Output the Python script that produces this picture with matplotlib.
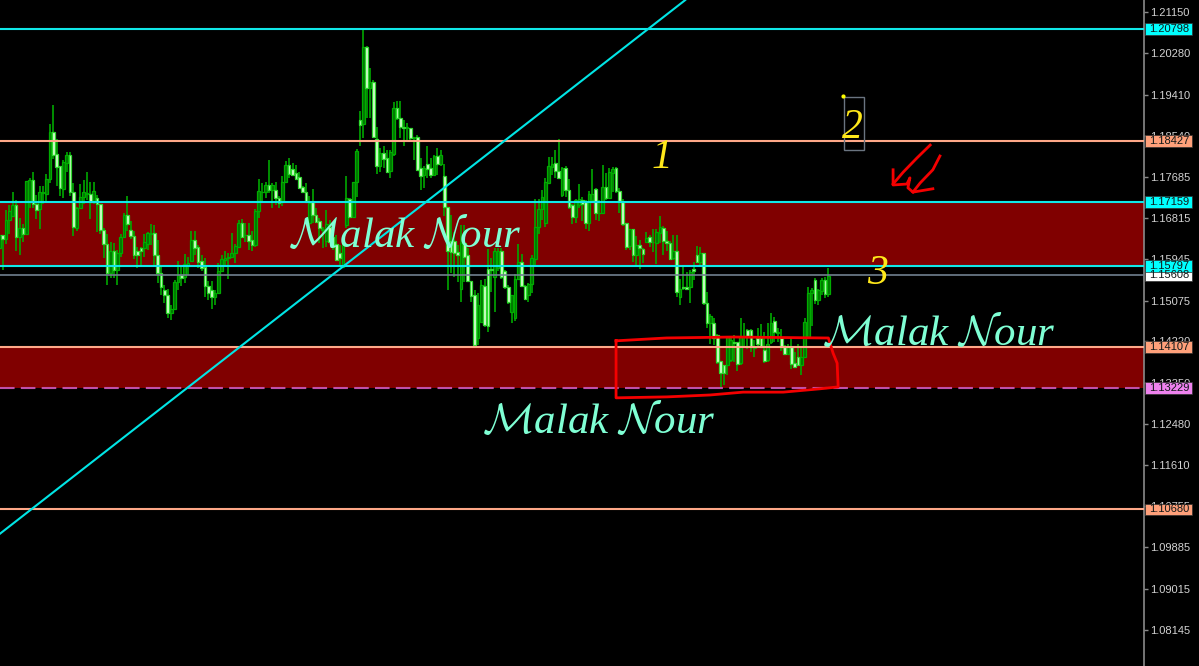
#!/usr/bin/env python
# coding: utf-8

import matplotlib
matplotlib.use("Agg")
import matplotlib.pyplot as plt
from matplotlib.patches import Rectangle

plt.rcParams['mathtext.fontset'] = 'cm'
plt.rcParams['mathtext.default'] = 'regular'

# candles
opens = [
    1.1618,1.1646,1.1637,1.1677,1.1686,1.1708,1.1641,1.1661,1.1648,1.1716,
    1.1762,1.1711,1.1700,1.1734,1.1732,1.1764,1.1863,1.1816,1.1790,1.1743,
    1.1798,1.1814,1.1737,1.1660,1.1702,1.1725,1.1732,1.1732,1.1716,1.1723,
    1.1710,1.1656,1.1627,1.1565,1.1612,1.1572,1.1607,1.1642,1.1687,1.1656,
    1.1644,1.1611,1.1618,1.1618,1.1627,1.1648,1.1649,1.1604,1.1566,1.1531,
    1.1519,1.1482,1.1491,1.1546,1.1562,1.1557,1.1581,1.1590,1.1635,1.1621,
    1.1590,1.1579,1.1539,1.1529,1.1515,1.1524,1.1569,1.1593,1.1597,1.1599,
    1.1607,1.1621,1.1670,1.1645,1.1646,1.1635,1.1625,1.1696,1.1736,1.1737,
    1.1751,1.1741,1.1741,1.1723,1.1716,1.1758,1.1793,1.1784,1.1776,1.1767,
    1.1746,1.1736,1.1670,1.1716,1.1688,1.1675,1.1656,1.1634,1.1662,1.1642,
    1.1627,1.1607,1.1579,1.1667,1.1722,1.1684,1.1757,1.1887,1.1879,1.2042,
    1.1956,1.1967,1.1848,1.1790,1.1818,1.1807,1.1781,1.1816,1.1912,1.1891,
    1.1874,1.1870,1.1870,1.1849,1.1851,1.1786,1.1771,1.1795,1.1786,1.1773,
    1.1811,1.1795,1.1770,1.1705,1.1633,1.1633,1.1609,1.1533,1.1628,1.1604,
    1.1549,1.1519,1.1428,1.1463,1.1539,1.1575,1.1575,1.1558,1.1576,1.1612,
    1.1570,1.1537,1.1484,1.1470,1.1553,1.1589,1.1539,1.1519,1.1542,1.1596,
    1.1663,1.1700,1.1672,1.1756,1.1789,1.1798,1.1780,1.1730,1.1787,1.1740,
    1.1709,1.1684,1.1709,1.1719,1.1716,1.1672,1.1719,1.1742,1.1691,1.1691,
    1.1747,1.1723,1.1777,1.1786,1.1738,1.1716,1.1670,1.1622,1.1658,1.1603,
    1.1624,1.1617,1.1631,1.1642,1.1630,1.1628,1.1649,1.1661,1.1633,1.1629,
    1.1598,1.1612,1.1516,1.1537,1.1537,1.1537,1.1575,1.1603,1.1589,1.1607,
    1.1503,1.1460,1.1460,1.1435,1.1381,1.1372,1.1372,1.1382,1.1421,1.1421,
    1.1377,1.1431,1.1445,1.1445,1.1407,1.1428,1.1428,1.1403,1.1382,1.1421,
    1.1464,1.1440,1.1428,1.1410,1.1396,1.1410,1.1377,1.1389,1.1372,1.1389,
    1.1431,1.1523,1.1551,1.1509,1.1528,1.1552,1.1521]
highs = [
    1.1646,1.1646,1.1698,1.1709,1.1737,1.1720,1.1682,1.1669,1.1760,1.1765,
    1.1779,1.1730,1.1748,1.1748,1.1774,1.1880,1.1919,1.1848,1.1790,1.1804,
    1.1820,1.1820,1.1755,1.1704,1.1753,1.1762,1.1779,1.1758,1.1758,1.1730,
    1.1712,1.1660,1.1648,1.1632,1.1628,1.1614,1.1648,1.1691,1.1728,1.1675,
    1.1655,1.1621,1.1621,1.1648,1.1653,1.1668,1.1667,1.1635,1.1579,1.1541,
    1.1533,1.1498,1.1551,1.1590,1.1581,1.1605,1.1599,1.1655,1.1655,1.1625,
    1.1604,1.1597,1.1548,1.1548,1.1530,1.1586,1.1604,1.1613,1.1607,1.1649,
    1.1626,1.1678,1.1680,1.1670,1.1670,1.1655,1.1700,1.1763,1.1755,1.1758,
    1.1804,1.1755,1.1758,1.1727,1.1769,1.1802,1.1807,1.1797,1.1793,1.1779,
    1.1749,1.1755,1.1727,1.1742,1.1702,1.1681,1.1663,1.1699,1.1678,1.1670,
    1.1646,1.1625,1.1646,1.1769,1.1723,1.1758,1.1827,1.1907,1.2080,1.2044,
    1.1997,1.1972,1.1874,1.1828,1.1834,1.1825,1.1825,1.1925,1.1927,1.1927,
    1.1888,1.1881,1.1870,1.1853,1.1856,1.1807,1.1790,1.1834,1.1807,1.1814,
    1.1828,1.1825,1.1795,1.1705,1.1688,1.1653,1.1625,1.1667,1.1667,1.1618,
    1.1549,1.1530,1.1523,1.1551,1.1554,1.1616,1.1597,1.1618,1.1618,1.1618,
    1.1572,1.1540,1.1520,1.1563,1.1626,1.1605,1.1540,1.1544,1.1603,1.1721,
    1.1721,1.1740,1.1765,1.1810,1.1810,1.1824,1.1848,1.1789,1.1791,1.1763,
    1.1712,1.1721,1.1753,1.1726,1.1719,1.1738,1.1784,1.1744,1.1719,1.1794,
    1.1777,1.1786,1.1788,1.1788,1.1744,1.1721,1.1672,1.1659,1.1659,1.1644,
    1.1635,1.1619,1.1652,1.1645,1.1659,1.1659,1.1685,1.1665,1.1654,1.1633,
    1.1645,1.1645,1.1554,1.1579,1.1568,1.1572,1.1589,1.1622,1.1621,1.1607,
    1.1526,1.1479,1.1470,1.1438,1.1381,1.1372,1.1431,1.1428,1.1435,1.1421,
    1.1470,1.1461,1.1447,1.1447,1.1424,1.1449,1.1459,1.1442,1.1461,1.1481,
    1.1474,1.1451,1.1447,1.1414,1.1417,1.1431,1.1400,1.1417,1.1410,1.1470,
    1.1537,1.1535,1.1556,1.1533,1.1556,1.1558,1.1577]
lows = [
    1.1618,1.1572,1.1627,1.1648,1.1684,1.1611,1.1604,1.1630,1.1646,1.1702,
    1.1702,1.1680,1.1658,1.1712,1.1716,1.1756,1.1805,1.1748,1.1727,1.1723,
    1.1778,1.1727,1.1644,1.1655,1.1701,1.1712,1.1720,1.1680,1.1712,1.1651,
    1.1647,1.1598,1.1541,1.1555,1.1556,1.1541,1.1599,1.1640,1.1655,1.1637,
    1.1595,1.1577,1.1583,1.1599,1.1614,1.1625,1.1579,1.1544,1.1519,1.1503,
    1.1470,1.1467,1.1491,1.1530,1.1539,1.1544,1.1562,1.1588,1.1604,1.1576,
    1.1569,1.1516,1.1509,1.1489,1.1498,1.1522,1.1567,1.1579,1.1553,1.1597,
    1.1586,1.1620,1.1639,1.1632,1.1614,1.1613,1.1621,1.1681,1.1713,1.1723,
    1.1734,1.1702,1.1709,1.1702,1.1706,1.1758,1.1765,1.1769,1.1762,1.1742,
    1.1734,1.1713,1.1660,1.1670,1.1670,1.1628,1.1618,1.1621,1.1632,1.1614,
    1.1590,1.1579,1.1579,1.1660,1.1681,1.1684,1.1726,1.1834,1.1849,1.1891,
    1.1891,1.1853,1.1774,1.1779,1.1786,1.1776,1.1765,1.1811,1.1888,1.1849,
    1.1832,1.1846,1.1846,1.1804,1.1781,1.1740,1.1744,1.1765,1.1765,1.1772,
    1.1772,1.1790,1.1686,1.1530,1.1565,1.1558,1.1547,1.1505,1.1547,1.1547,
    1.1505,1.1414,1.1414,1.1463,1.1453,1.1442,1.1526,1.1483,1.1569,1.1554,
    1.1533,1.1500,1.1460,1.1465,1.1551,1.1537,1.1509,1.1504,1.1523,1.1579,
    1.1647,1.1677,1.1663,1.1756,1.1772,1.1765,1.1765,1.1725,1.1726,1.1700,
    1.1668,1.1670,1.1703,1.1675,1.1659,1.1654,1.1716,1.1677,1.1675,1.1690,
    1.1719,1.1721,1.1737,1.1735,1.1691,1.1665,1.1614,1.1614,1.1589,1.1579,
    1.1574,1.1586,1.1628,1.1621,1.1610,1.1584,1.1628,1.1603,1.1612,1.1593,
    1.1593,1.1516,1.1498,1.1530,1.1530,1.1502,1.1551,1.1586,1.1579,1.1498,
    1.1449,1.1417,1.1414,1.1374,1.1323,1.1330,1.1351,1.1379,1.1379,1.1360,
    1.1372,1.1407,1.1405,1.1400,1.1388,1.1407,1.1410,1.1377,1.1379,1.1417,
    1.1421,1.1421,1.1402,1.1393,1.1393,1.1363,1.1365,1.1370,1.1351,1.1388,
    1.1431,1.1454,1.1500,1.1498,1.1519,1.1514,1.1516]
closes = [
    1.1646,1.1637,1.1677,1.1697,1.1709,1.1641,1.1660,1.1648,1.1760,1.1762,
    1.1712,1.1698,1.1736,1.1736,1.1764,1.1863,1.1814,1.1788,1.1745,1.1799,
    1.1814,1.1737,1.1662,1.1703,1.1725,1.1736,1.1734,1.1716,1.1739,1.1710,
    1.1656,1.1627,1.1565,1.1612,1.1572,1.1607,1.1642,1.1687,1.1669,1.1644,
    1.1604,1.1604,1.1611,1.1630,1.1649,1.1649,1.1604,1.1566,1.1536,1.1519,
    1.1482,1.1491,1.1546,1.1562,1.1556,1.1585,1.1586,1.1635,1.1619,1.1588,
    1.1577,1.1539,1.1524,1.1516,1.1523,1.1570,1.1595,1.1597,1.1600,1.1607,
    1.1623,1.1670,1.1642,1.1646,1.1633,1.1625,1.1696,1.1739,1.1737,1.1750,
    1.1741,1.1750,1.1723,1.1713,1.1758,1.1793,1.1774,1.1772,1.1763,1.1744,
    1.1737,1.1715,1.1713,1.1688,1.1674,1.1660,1.1658,1.1668,1.1632,1.1621,
    1.1593,1.1597,1.1625,1.1723,1.1684,1.1757,1.1823,1.1877,1.2042,1.1956,
    1.1967,1.1853,1.1791,1.1818,1.1806,1.1779,1.1821,1.1912,1.1891,1.1874,
    1.1870,1.1874,1.1849,1.1851,1.1783,1.1769,1.1786,1.1785,1.1772,1.1811,
    1.1795,1.1814,1.1705,1.1611,1.1609,1.1607,1.1604,1.1628,1.1600,1.1549,
    1.1518,1.1414,1.1498,1.1540,1.1456,1.1454,1.1571,1.1611,1.1611,1.1558,
    1.1537,1.1505,1.1520,1.1554,1.1589,1.1539,1.1512,1.1542,1.1598,1.1663,
    1.1700,1.1726,1.1758,1.1791,1.1796,1.1780,1.1765,1.1787,1.1740,1.1705,
    1.1684,1.1719,1.1721,1.1712,1.1672,1.1733,1.1733,1.1691,1.1692,1.1747,
    1.1724,1.1779,1.1784,1.1738,1.1718,1.1668,1.1621,1.1658,1.1603,1.1624,
    1.1619,1.1605,1.1640,1.1630,1.1631,1.1651,1.1663,1.1633,1.1628,1.1595,
    1.1612,1.1525,1.1533,1.1535,1.1533,1.1568,1.1570,1.1588,1.1607,1.1502,
    1.1461,1.1475,1.1428,1.1379,1.1356,1.1356,1.1431,1.1424,1.1419,1.1375,
    1.1431,1.1433,1.1431,1.1410,1.1410,1.1417,1.1410,1.1381,1.1417,1.1461,
    1.1442,1.1442,1.1410,1.1396,1.1409,1.1375,1.1367,1.1372,1.1389,1.1462,
    1.1523,1.1530,1.1509,1.1530,1.1552,1.1521,1.1559]

# price axis
tick_prices = [1.21150, 1.20280, 1.19410, 1.18540, 1.17685, 1.16815, 1.15945, 1.15075,
               1.14220, 1.13350, 1.12480, 1.11610, 1.10755, 1.09885, 1.09015, 1.08145]

# horizontal levels and their price tags
level_prices = [1.20798, 1.18427, 1.17159, 1.15797, 1.15608, 1.14107, 1.13229, 1.10680]
level_colors = ['#10e8e8', '#ffa888', '#10e8e8', '#10e8e8', '#708090', '#ffa888', '#c050a8', '#ffa888']
tag_colors = ['#00ffff', '#ffa07a', '#00ffff', '#00ffff', '#ffffff', '#ffa07a', '#ee82ee', '#ffa07a']
tag_order = [4, 0, 1, 2, 3, 5, 6, 7]  # white tag sits under the cyan one

# shaded zones
zone_tops = [1.17159, 1.14107]
zone_bottoms = [1.15797, 1.13229]

# trend line (candle number, price)
trend_x = [0.2, 203.5]
trend_y = [1.1017, 1.2140]

# hand drawn red marks (candle number, price)
box_x = [183, 198, 218, 245, 246, 247.4, 248.6, 248.9, 243.5, 232.6, 220.7, 210.9, 198.1, 183, 183]
box_y = [1.1423, 1.1429, 1.1431, 1.1429, 1.1429, 1.1397, 1.1376, 1.1326, 1.1322, 1.1315, 1.1315, 1.1309, 1.1305, 1.1303, 1.1423]
arrow1_x = [276.2, 272.3, 268.2, 265.2]
arrow1_y = [1.1835, 1.1808, 1.1778, 1.1753]
arrow2_x = [265.2, 265.2, 269.3, 270.2, 269.6, 271.1, 277]
arrow2_y = [1.1783, 1.1751, 1.1753, 1.1766, 1.1745, 1.1736, 1.1743]
arrow3_x = [271.1, 273.2, 277, 279.1]
arrow3_y = [1.1736, 1.1755, 1.1783, 1.1812]

# writing on the chart
name_x = [85.8, 244, 143.2]
name_y = [1.1621, 1.1415, 1.1229]
digit_labels = ['1', '2', '3']
digit_x = [193.5, 250, 257.6]
digit_y = [1.1786, 1.1850, 1.1542]

fig = plt.figure(figsize=(11.99, 6.66), dpi=100, facecolor='black')
ax = fig.add_axes([0, 0, 1143.5 / 1199, 1], facecolor='black')
ax.set_xlim(0.208, 339.5)
ax.set_ylim(1.07386, 1.21403)

# Zones behind everything
for top, bottom in zip(zone_tops, zone_bottoms):
    ax.axhspan(bottom, top, color='#800000', lw=0, zorder=1)

# Candles
numbers = list(range(len(opens)))
ax.vlines(numbers, lows, highs, color='#00a800', lw=1.2, zorder=3)
up = [i for i in numbers if closes[i] >= opens[i]]
down = [i for i in numbers if closes[i] < opens[i]]
ax.bar(up, [closes[i] - opens[i] for i in up], bottom=[opens[i] for i in up], width=0.8,
       color='#007400', edgecolor='#00ac00', lw=0.9, zorder=4)
ax.bar(down, [opens[i] - closes[i] for i in down], bottom=[closes[i] for i in down], width=0.8,
       color='#d8ffd0', edgecolor='#30d830', lw=0.9, zorder=4)

# Levels
for i, price in enumerate(level_prices):
    style = (0, (7, 3)) if price == 1.13229 else '-'
    ax.axhline(price, color=level_colors[i], lw=1.5 if price != 1.15608 else 1.2, ls=style, zorder=5)

ax.plot(trend_x, trend_y, color='#00e5e5', lw=1.5, zorder=5)

# Red pen
for xs, ys in [(box_x, box_y), (arrow1_x, arrow1_y), (arrow2_x, arrow2_y), (arrow3_x, arrow3_y)]:
    ax.plot(xs, ys, color='#f40000', lw=2.0, zorder=6, solid_joinstyle='round')

# Box around the 2
ax.add_patch(Rectangle((250.7, 1.1825), 5.9, 0.0112, fill=False, ec='#6a7480', lw=1.0, zorder=6))
ax.plot([250.4], [1.1939], marker='o', ms=2, color='#ffff00', zorder=7)

for x, y in zip(name_x, name_y):
    ax.text(x, y, r'$\mathcal{M}$alak $\mathcal{N}$our', color='#7fffd4', fontsize=31,
            family='Liberation Serif', style='italic', ha='left', va='baseline', zorder=8)
for label, x, y in zip(digit_labels, digit_x, digit_y):
    ax.text(x, y, label, color='#ffe81a', fontsize=30,
            family='Liberation Serif', style='italic', ha='left', va='baseline', zorder=8)

# Price scale on the right
for side in ['left', 'top', 'bottom']:
    ax.spines[side].set_visible(False)
ax.spines['right'].set_color('#8a8a8a')
ax.spines['right'].set_linewidth(1.2)
ax.set_xticks([])
ax.yaxis.tick_right()
ax.set_yticks(tick_prices)
ax.set_yticklabels([f'{p:.5f}' for p in tick_prices], family='Liberation Sans', fontsize=8, color='#d2d2d2')
ax.tick_params(axis='y', length=3, width=1, color='#8a8a8a', pad=1.5)

tags = ax.get_yaxis_transform()
for i in tag_order:
    ax.add_patch(Rectangle((1.0013, level_prices[i] - 0.00125), 0.0411, 0.0025, transform=tags,
                           fc=tag_colors[i], ec='#303030', lw=0.5, clip_on=False, zorder=10))
    ax.text(1.0046, level_prices[i], f'{level_prices[i]:.5f}', transform=tags, color='#101818',
            family='Liberation Sans', fontsize=8, ha='left', va='center', clip_on=False, zorder=11)

fig.savefig('out.png', dpi=100, facecolor='black')
